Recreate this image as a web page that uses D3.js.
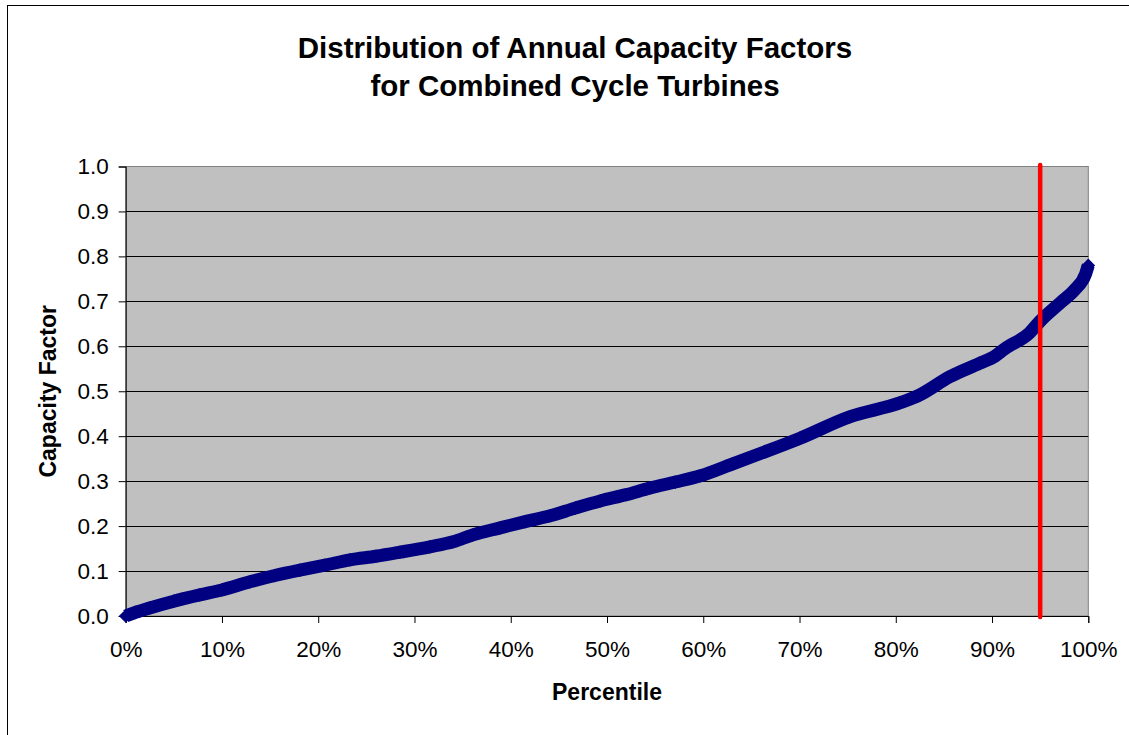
<!DOCTYPE html>
<html>
<head>
<meta charset="utf-8">
<script src="https://cdn.jsdelivr.net/npm/d3@7"></script>
<style>
  body { margin: 0; background: #fff; }
  text { font-family: Arial, "Liberation Sans", sans-serif; }
</style>
</head>
<body>
<div id="wrapper"></div>
<script>
// percentile (0..1) and capacity factor
const percentiles = [0, 0.01, 0.025, 0.05, 0.077, 0.1, 0.129, 0.155, 0.181, 0.207, 0.233, 0.26, 0.285, 0.316, 0.34, 0.36, 0.389, 0.415, 0.441, 0.467, 0.493, 0.52, 0.545, 0.571, 0.597, 0.63, 0.66, 0.70, 0.752, 0.804, 0.825, 0.856, 0.887, 0.903, 0.913, 0.939, 0.95, 0.971, 0.986, 0.997, 1.0]
const capacityFactors = [0, 0.008, 0.018, 0.033, 0.047, 0.058, 0.076, 0.09, 0.102, 0.113, 0.125, 0.133, 0.142, 0.154, 0.165, 0.18, 0.196, 0.21, 0.223, 0.24, 0.256, 0.27, 0.285, 0.298, 0.312, 0.338, 0.362, 0.395, 0.443, 0.474, 0.492, 0.532, 0.562, 0.578, 0.594, 0.630, 0.656, 0.697, 0.726, 0.76, 0.78]
const cutoffPercentile = 0.95
const xTicks = [0, 0.1, 0.2, 0.3, 0.4, 0.5, 0.6, 0.7, 0.8, 0.9, 1.0]
const yTicks = [0, 0.1, 0.2, 0.3, 0.4, 0.5, 0.6, 0.7, 0.8, 0.9, 1.0]
const titleLines = ["Distribution of Annual Capacity Factors", "for Combined Cycle Turbines"]

const dataset = percentiles.map((p, i) => ({p: p, v: capacityFactors[i]}))

const width = 1129
const height = 735
const plot = {left: 125.7, right: 1088.3, top: 166.5, bottom: 616}

const svg = d3.select("#wrapper").append("svg")
  .attr("width", width)
  .attr("height", height)

// outer chart border
svg.append("rect")
  .attr("x", 7.5).attr("y", 5.5)
  .attr("width", 1300).attr("height", 900)
  .attr("fill", "#fff")
  .attr("stroke", "#000")

const xScale = d3.scaleLinear().domain([0, 1]).range([plot.left, plot.right])
const yScale = d3.scaleLinear().domain([0, 1]).range([plot.bottom, plot.top])

// plot area
svg.append("rect")
  .attr("x", plot.left).attr("y", plot.top)
  .attr("width", plot.right - plot.left)
  .attr("height", plot.bottom - plot.top)
  .attr("fill", "#c0c0c0")
  .attr("stroke", "#808080")

// horizontal grid
svg.append("g")
  .selectAll("line")
  .data(yTicks.filter(t => t > 0 && t < 1))
  .join("line")
  .attr("x1", plot.left).attr("x2", plot.right)
  .attr("y1", d => Math.round(yScale(d)) + 0.5)
  .attr("y2", d => Math.round(yScale(d)) + 0.5)
  .attr("stroke", "#000")
  .attr("stroke-width", 1)

// axes
const yAxis = svg.append("g")
  .attr("transform", `translate(${plot.left},0)`)
  .call(d3.axisLeft(yScale).tickValues(yTicks).tickFormat(d3.format(".1f")).tickSize(7).tickPadding(10))
const xAxis = svg.append("g")
  .attr("transform", `translate(0,${plot.bottom})`)
  .call(d3.axisBottom(xScale).tickValues(xTicks).tickFormat(d3.format(".0%")).tickSize(7).tickPadding(18))

;[xAxis, yAxis].forEach(ax => {
  ax.select(".domain").attr("stroke", "#000")
  ax.selectAll(".tick line").attr("stroke", "#000")
  ax.selectAll(".tick text")
    .attr("fill", "#000")
    .style("font-size", "22.5px")
    .style("font-family", "Arial, 'Liberation Sans', sans-serif")
})

// data: chain of diamond markers
const lineGenerator = d3.line()
  .x(d => xScale(d.p))
  .y(d => yScale(d.v))
  .curve(d3.curveMonotoneX)

svg.append("path")
  .attr("d", lineGenerator(dataset))
  .attr("fill", "none")
  .attr("stroke", "#000080")
  .attr("stroke-width", 13)
  .attr("stroke-linejoin", "round")

svg.append("g")
  .selectAll("path")
  .data(dataset)
  .join("path")
  .attr("transform", d => `translate(${xScale(d.p)},${yScale(d.v)})`)
  .attr("d", d3.symbol(d3.symbolDiamond2, 120))
  .attr("fill", "#000080")

// 95th percentile marker
svg.append("line")
  .attr("x1", xScale(cutoffPercentile)).attr("x2", xScale(cutoffPercentile))
  .attr("y1", plot.top - 1.5).attr("y2", plot.bottom + 1)
  .attr("stroke", "#ff0000")
  .attr("stroke-width", 4.5)
  .attr("stroke-linecap", "round")

// titles
svg.append("text")
  .attr("x", 575).attr("y", 58)
  .attr("text-anchor", "middle")
  .style("font-size", "29.5px").style("font-weight", "bold")
  .text(titleLines[0])
svg.append("text")
  .attr("x", 575).attr("y", 96)
  .attr("text-anchor", "middle")
  .style("font-size", "29.5px").style("font-weight", "bold")
  .text(titleLines[1])

svg.append("text")
  .attr("x", 607).attr("y", 700)
  .attr("text-anchor", "middle")
  .style("font-size", "23px").style("font-weight", "bold")
  .text("Percentile")

svg.append("text")
  .attr("transform", `translate(56,${(plot.top + plot.bottom) / 2}) rotate(-90)`)
  .attr("text-anchor", "middle")
  .style("font-size", "23px").style("font-weight", "bold")
  .text("Capacity Factor")
</script>
</body>
</html>
